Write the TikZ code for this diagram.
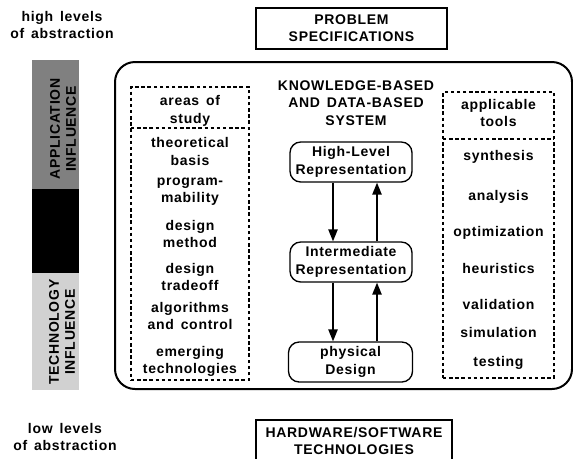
\documentclass[tikz,border=0pt]{standalone}
\usepackage{fontspec}
\setmainfont{Liberation Sans}[LetterSpace=5, WordSpace=1.5]
\usetikzlibrary{arrows.meta}
\begin{document}
\begin{tikzpicture}[x=0.75pt,y=-0.75pt,
  every node/.style={font=\fontsize{10.5}{13}\selectfont\bfseries, align=center, inner sep=0pt},
  solidbox/.style={draw, line width=1pt},
  repbox/.style={draw, line width=1pt, rounded corners=8pt, minimum width=91.5pt, minimum height=30pt},
  dotbox/.style={draw, line width=1.1pt, dash pattern=on 2.6pt off 2pt},
  bartext/.style={rotate=90, font=\fontsize{10.5}{12}\selectfont\bfseries},
  flow/.style={line width=1.1pt, -{Triangle[length=9pt,width=7pt]}}
]
\useasboundingbox (0,0) rectangle (573,458);

% side labels
\node (high) at (62,25) {high levels\\of abstraction};
\node (low) at (65,437) {low levels\\of abstraction};

% influence bar
\fill[black!50] (32,60) rectangle (79,189);
\fill[black] (32,189) rectangle (79,273);
\fill[black!18] (32,273) rectangle (79,390);
\node[bartext] (app) at (63,129) {APPLICATION\\INFLUENCE};
\node[bartext] (tech) at (62,332) {TECHNOLOGY\\INFLUENCE};

% top and bottom boxes
\node[solidbox, minimum width=143.25pt, minimum height=30.75pt] (spec) at (351.5,28.5) {PROBLEM\\SPECIFICATIONS};
\node[solidbox, minimum width=147pt, minimum height=31.5pt] (hw) at (354,441) {HARDWARE/SOFTWARE\\TECHNOLOGIES};

% system frame
\node[draw, line width=1.5pt, rounded corners=15pt, minimum width=342.75pt, minimum height=245.25pt] (sys) at (343.5,225.5) {};

% left column
\node[dotbox, minimum width=88.5pt, minimum height=219.75pt] (areas) at (190,233.5) {};
\draw[dotbox] (131,128) -- (249,128);
\node (a0) at (190,111) {areas of\\study};
\node (a1) at (190,151.5) {theoretical\\basis};
\node (a2) at (190,192) {program-\\mability};
\node (a3) at (190,234) {design\\method};
\node (a4) at (190,277) {design\\tradeoff};
\node (a5) at (190,316) {algorithms\\and control};
\node (a6) at (190,361.5) {emerging\\technologies};

% right column
\node[dotbox, minimum width=83.25pt, minimum height=214.5pt] (tools) at (498.5,235) {};
\draw[dotbox] (443,139) -- (554,139);
\node (t0) at (498.5,113) {applicable\\tools};
\node (t1) at (498.5,157) {synthesis};
\node (t2) at (498.5,197) {analysis};
\node (t3) at (498.5,233) {optimization};
\node (t4) at (498.5,268) {heuristics};
\node (t5) at (498.5,304) {validation};
\node (t6) at (498.5,332) {simulation};
\node (t7) at (498.5,363) {testing};

% centre
\node (kb) at (356,103) {KNOWLEDGE-BASED\\AND DATA-BASED\\SYSTEM};
\node[repbox] (hl) at (351,162) {High-Level\\Representation};
\node[repbox] (im) at (351,262) {Intermediate\\Representation};
\node[repbox, minimum width=93pt] (pd) at (350.5,362) {physical\\Design};

\draw[flow] ([xshift=-13.5pt]hl.south) -- ([xshift=-13.5pt]hl.south |- im.north);
\draw[flow] ([xshift=19.5pt]im.north) -- ([xshift=19.5pt]im.north |- hl.south);
\draw[flow] ([xshift=-13.5pt]im.south) -- ([xshift=-13.5pt]im.south |- pd.north);
\draw[flow] ([xshift=19.5pt]im.south |- pd.north) -- ([xshift=19.5pt]im.south);
\end{tikzpicture}
\end{document}
